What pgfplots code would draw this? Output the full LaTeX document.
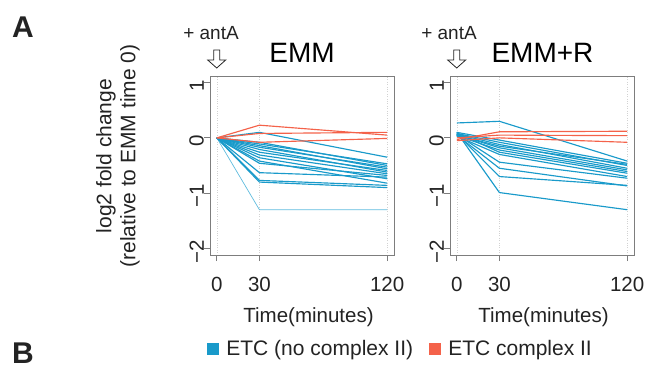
\documentclass[border=0pt]{standalone}
\usepackage{pgfplots}
\pgfplotsset{compat=1.18}
\usepackage{fontspec}
\setmainfont{Liberation Sans}
\definecolor{etcblue}{RGB}{25,154,202}
\definecolor{etcred}{RGB}{244,98,74}
\definecolor{etclight}{RGB}{95,188,222}
\definecolor{boxgray}{RGB}{125,125,125}
\definecolor{txt}{RGB}{35,35,35}
\pgfplotsset{
 panel/.style={
  scale only axis, width=184pt, height=179pt, anchor=south west,
  xmin=-4.8, xmax=124.8, ymin=-2.12, ymax=1.12,
  xtick={0,30,120}, xticklabels={0,30,120},
  ytick={-2,-1,0,1}, yticklabels={−2,−1,0,1},
  xtick pos=left, ytick pos=left,
  tick align=outside, major tick length=6pt,
  axis line style={boxgray, line width=0.9pt},
  every tick/.style={boxgray, line width=0.9pt},
  xmajorgrids, major grid style={dotted, gray!35, line width=0.6pt},
  tick label style={font=\fontsize{20.5}{24}\selectfont, text=txt},
  xticklabel style={anchor=north, inner sep=0pt, yshift=-16pt},
  yticklabel style={rotate=90, anchor=south, inner sep=0pt, xshift=-3pt},
  every axis plot/.append style={line width=1.15pt, mark=none},
  /pgf/number format/assume math mode=true,
 }
}
\begin{document}
\begin{tikzpicture}[x=1pt,y=1pt]
\useasboundingbox (0,0) rectangle (651,370);
% ---------------- EMM ----------------
\begin{axis}[panel, at={(210pt,115pt)},
  legend style={draw=none, fill=none, inner sep=0pt, at={(-0.016,-0.525)}, anchor=west,
    legend columns=2, font=\fontsize{21}{25}\selectfont, text=txt,
    /tikz/every odd column/.append style={column sep=5pt},
    /tikz/every even column/.append style={column sep=14pt}},
  legend cell align=left]
\addlegendimage{legend image code/.code={\fill[etcblue] (0pt,-5.5pt) rectangle (11pt,5.5pt);}}
\addlegendentry{ETC (no complex II)}
\addlegendimage{legend image code/.code={\fill[etcred] (0pt,-5.5pt) rectangle (11pt,5.5pt);}}
\addlegendentry{ETC complex II}
\addplot[etclight, line width=0.7pt] coordinates {(0,0) (30,-1.30) (120,-1.30)};
\addplot[etcblue] coordinates {(0,0) (30,0.10) (120,-0.35)};
\addplot[etcblue] coordinates {(0,0) (30,-0.08) (120,-0.50)};
\addplot[etcblue] coordinates {(0,0) (30,-0.11) (120,-0.47)};
\addplot[etcblue] coordinates {(0,0) (30,-0.14) (120,-0.56)};
\addplot[etcblue] coordinates {(0,0) (30,-0.17) (120,-0.53)};
\addplot[etcblue] coordinates {(0,0) (30,-0.21) (120,-0.62)};
\addplot[etcblue] coordinates {(0,0) (30,-0.26) (120,-0.59)};
\addplot[etcblue] coordinates {(0,0) (30,-0.31) (120,-0.65)};
\addplot[etcblue] coordinates {(0,0) (30,-0.36) (120,-0.74)};
\addplot[etcblue] coordinates {(0,0) (30,-0.42) (120,-0.82)};
\addplot[etcblue] coordinates {(0,0) (30,-0.46) (120,-0.68)};
\addplot[etcblue] coordinates {(0,0) (30,-0.63) (120,-0.71)};
\addplot[etcblue] coordinates {(0,0) (30,-0.77) (120,-0.86)};
\addplot[etcblue] coordinates {(0,0) (30,-0.80) (120,-0.90)};
\addplot[etcred] coordinates {(0,0) (30,0.23) (120,0.05)};
\addplot[etcred] coordinates {(0,0) (30,0.08) (120,0.10)};
\addplot[etcred] coordinates {(0,0) (30,-0.08) (120,-0.01)};
\end{axis}
% ---------------- EMM+R ----------------
\begin{axis}[panel, at={(450pt,115pt)}]
\addplot[etcblue] coordinates {(0,0.27) (30,0.30) (120,-0.42)};
\addplot[etcblue] coordinates {(0,0.10) (30,-0.04) (120,-0.46)};
\addplot[etcblue] coordinates {(0,0.08) (30,-0.08) (120,-0.50)};
\addplot[etcblue] coordinates {(0,0.07) (30,-0.12) (120,-0.55)};
\addplot[etcblue] coordinates {(0,0.05) (30,-0.15) (120,-0.48)};
\addplot[etcblue] coordinates {(0,0.06) (30,-0.18) (120,-0.58)};
\addplot[etcblue] coordinates {(0,0.04) (30,-0.22) (120,-0.61)};
\addplot[etcblue] coordinates {(0,0.09) (30,-0.26) (120,-0.64)};
\addplot[etcblue] coordinates {(0,0.03) (30,-0.30) (120,-0.70)};
\addplot[etcblue] coordinates {(0,0.06) (30,-0.44) (120,-0.73)};
\addplot[etcblue] coordinates {(0,0.05) (30,-0.55) (120,-0.87)};
\addplot[etcblue] coordinates {(0,0.07) (30,-0.70) (120,-0.86)};
\addplot[etcblue] coordinates {(0,0.10) (30,-0.99) (120,-1.30)};
\addplot[etcred] coordinates {(0,-0.03) (30,0.11) (120,0.12)};
\addplot[etcred] coordinates {(0,0.00) (30,0.05) (120,0.04)};
\addplot[etcred] coordinates {(0,-0.05) (30,0.00) (120,-0.08)};
\end{axis}
% ---------------- annotations ----------------
\node[anchor=base west, font=\bfseries\fontsize{30}{30}\selectfont, text=txt, inner sep=0pt] at (12,332) {A};
\node[anchor=base west, font=\bfseries\fontsize{30}{30}\selectfont, text=txt, inner sep=0pt] at (12,7) {B};
\node[anchor=base, font=\fontsize{28}{28}\selectfont, inner sep=0pt] at (302,307) {EMM};
\node[anchor=base, font=\fontsize{28}{28}\selectfont, inner sep=0pt] at (542.5,307) {EMM+R};
\node[anchor=base, font=\fontsize{19}{19}\selectfont, text=txt, inner sep=0pt] at (211,330) {+ antA};
\node[anchor=base, font=\fontsize{19}{19}\selectfont, text=txt, inner sep=0pt] at (449,330) {+ antA};
\draw[txt, line width=0.8pt, fill=white] (213.7,320) -- (219.7,320) -- (219.7,310) -- (225.7,310) -- (216.7,302) -- (207.7,310) -- (213.7,310) -- cycle;
\draw[txt, line width=0.8pt, fill=white] (453.7,320) -- (459.7,320) -- (459.7,310) -- (465.7,310) -- (456.7,302) -- (447.7,310) -- (453.7,310) -- cycle;
\node[anchor=base, font=\fontsize{20.5}{20.5}\selectfont, text=txt, inner sep=0pt] at (308.5,48) {Time(minutes)};
\node[anchor=base, font=\fontsize{20.5}{20.5}\selectfont, text=txt, inner sep=0pt] at (543.5,48) {Time(minutes)};
\node[rotate=90, align=center, font=\fontsize{21}{24}\selectfont, text=txt, inner sep=0pt] at (118,214) {log2 fold change\\(relative to EMM time 0)};
\end{tikzpicture}
\end{document}
